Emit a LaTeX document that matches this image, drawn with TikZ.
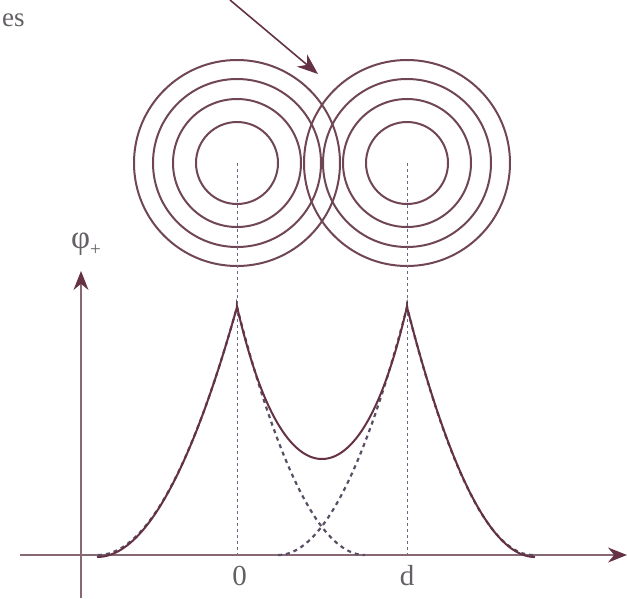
\documentclass[tikz,border=0pt]{standalone}
\usepackage{fontspec}
\setmainfont{Liberation Serif}
\usetikzlibrary{arrows.meta}
\definecolor{curvecol}{RGB}{100,50,68}
\definecolor{ringcol}{RGB}{112,70,86}
\definecolor{axiscol}{RGB}{135,105,118}
\definecolor{dashcol}{RGB}{90,78,100}
\definecolor{guidecol}{RGB}{110,105,130}
\definecolor{textcol}{RGB}{100,95,100}
\tikzset{
  ring/.style={draw=ringcol, line width=2pt},
  axisline/.style={draw=axiscol, line width=1.5pt, -{Stealth[length=19pt,width=15pt,color=curvecol,fill=curvecol]}},
  guide/.style={draw=guidecol, line width=1pt, dash pattern=on 3pt off 3pt},
  partial/.style={draw=dashcol, line width=2.2pt, dash pattern=on 4pt off 4pt},
  total/.style={draw=curvecol, line width=2pt},
  lbl/.style={text=textcol, font=\fontsize{29}{32}\selectfont, inner sep=0pt}
}
\begin{document}
\begin{tikzpicture}[x=1pt,y=-1pt]
\useasboundingbox (0,0) rectangle (627,598);
% centres
\coordinate (cA) at (237,163);
\coordinate (cB) at (407,163);
\coordinate (fA) at (237,555);
\coordinate (fB) at (407,555);
% rings
\foreach \r in {41,64,84,103}{
  \draw[ring] (cA) circle[radius=\r];
  \draw[ring] (cB) circle[radius=\r];
}
% guide lines
\draw[guide] (cA) -- (fA);
\draw[guide] (cB) -- (fB);
% axes
\coordinate (xs) at (20,555);
\coordinate (xe) at (627,555);
\coordinate (ys) at (81,598);
\coordinate (ye) at (81,271);
\draw[axisline] (xs) -- (xe);
\draw[axisline] (ys) -- (ye);
% top arrow
\coordinate (as) at (230,0);
\coordinate (ae) at (318,74);
\draw[draw=curvecol, line width=1.6pt, -{Stealth[length=21pt,width=16pt]}] (as) -- (ae);
% partial potentials (dashed)
\draw[partial] plot[domain=98:237, samples=60] (\x,{555-248*((\x-98)/139)^2})
  -- plot[domain=237:365, samples=60] (\x,{555-248*((365-\x)/128)^2});
\draw[partial] plot[domain=278:407, samples=60] (\x,{555-248*((\x-278)/129)^2})
  -- plot[domain=407:533, samples=60] (\x,{555-248*((533-\x)/126)^2});
% total potential
\draw[total] plot[domain=97:237, samples=60] (\x,{557-250*((\x-97)/140)^2})
  -- plot[domain=237:407, samples=80] (\x,{555-96*cosh((\x-322)/53)})
  -- plot[domain=407:535, samples=60] (\x,{557-250*((535-\x)/128)^2});
% labels
\node[lbl, anchor=base] (l0) at (239.5,585) {0};
\node[lbl, anchor=base] (ld) at (407,585) {d};
\node[lbl, anchor=base west, font=\fontsize{33}{36}\selectfont] (phi) at (71,248) {φ\raisebox{-0.22em}{\fontsize{19}{20}\selectfont +}};
\node[lbl, anchor=base west, font=\fontsize{27}{30}\selectfont] (es) at (2,26) {es};
\end{tikzpicture}
\end{document}
